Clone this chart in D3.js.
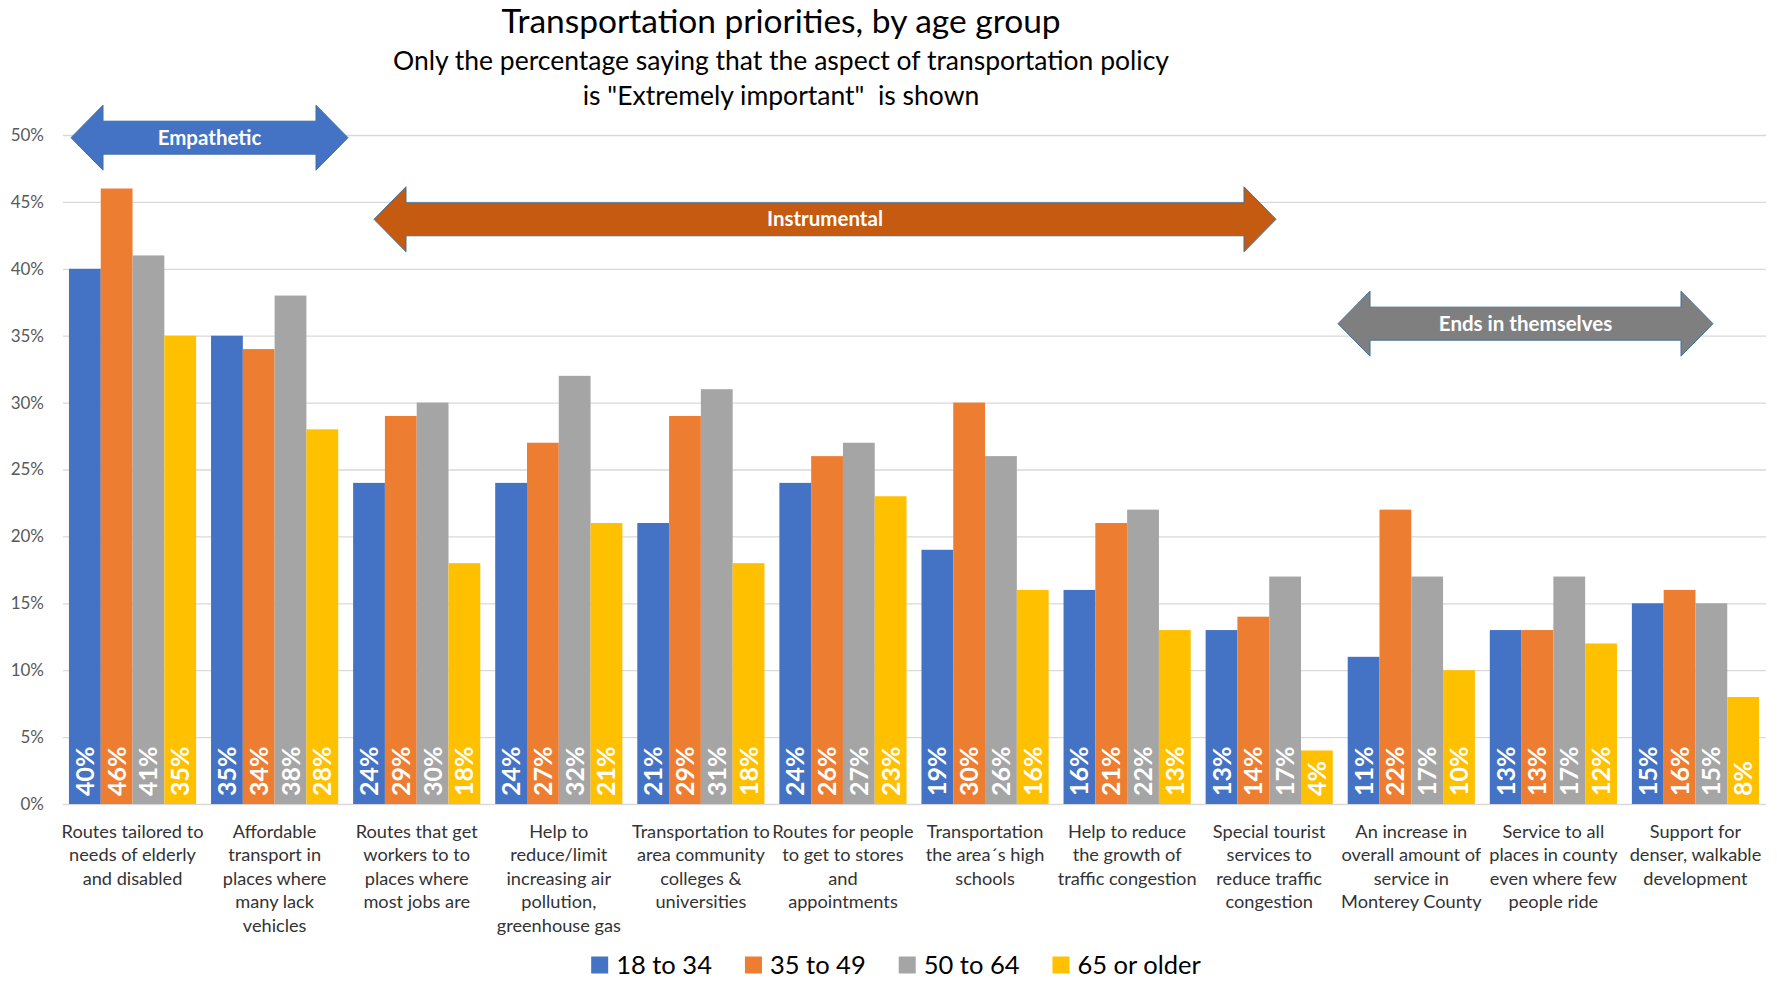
<!DOCTYPE html>
<html>
<head>
<meta charset="utf-8">
<script src="https://cdn.jsdelivr.net/npm/d3@7"></script>
<style>
    body { margin: 0; background: #fff; }
    svg { display: block; font-family: Lato, 'Noto Sans', sans-serif; }
</style>
</head>
<body>
<div id="chart"></div>
<script>
//Chart data
var categories = [
    'Routes tailored to\nneeds of elderly\nand disabled',
    'Affordable\ntransport in\nplaces where\nmany lack\nvehicles',
    'Routes that get\nworkers to to\nplaces where\nmost jobs are',
    'Help to\nreduce/limit\nincreasing air\npollution,\ngreenhouse gas',
    'Transportation to\narea community\ncolleges &\nuniversities',
    'Routes for people\nto get to stores\nand\nappointments',
    'Transportation\nthe area\u00b4s high\nschools',
    'Help to reduce\nthe growth of\ntraffic congestion',
    'Special tourist\nservices to\nreduce traffic\ncongestion',
    'An increase in\noverall amount of\nservice in\nMonterey County',
    'Service to all\nplaces in county\neven where few\npeople ride',
    'Support for\ndenser, walkable\ndevelopment'
];
var seriesNames = ['18 to 34', '35 to 49', '50 to 64', '65 or older'];
var age18to34 = [40, 35, 24, 24, 21, 24, 19, 16, 13, 11, 13, 15];
var age35to49 = [46, 34, 29, 27, 29, 26, 30, 21, 14, 22, 13, 16];
var age50to64 = [41, 38, 30, 32, 31, 27, 26, 22, 17, 17, 17, 15];
var age65plus = [35, 28, 18, 21, 18, 23, 16, 13, 4, 10, 12, 8];
var yTicks = [0, 5, 10, 15, 20, 25, 30, 35, 40, 45, 50];

//Group annotations (label, left tip, right tip, height in %)
var groupLabels = ['Empathetic', 'Instrumental', 'Ends in themselves'];
var groupFrom = [71, 374, 1338];
var groupTo = [348, 1276, 1713];
var groupLevel = [49.8, 43.7, 35.9];

var colors = ['#4472C4', '#ED7D31', '#A5A5A5', '#FFC000'];
var arrowColors = ['#4472C4', '#C55A11', '#7F7F7F'];
var series = [age18to34, age35to49, age50to64, age65plus];

var width = 1777, height = 990;

var svg = d3.select('#chart')
    .append('svg')
    .attr('width', width)
    .attr('height', height);

//Scales
var x = d3.scaleBand()
    .domain(d3.range(categories.length))
    .range([61.5, 1766.5])
    .paddingInner(0.105)
    .paddingOuter(0.0525);

var xInner = d3.scaleBand()
    .domain(d3.range(series.length))
    .range([0, x.bandwidth()]);

var y = d3.scaleLinear()
    .domain([0, 50])
    .range([804, 135]);

//Title
svg.append('text')
    .attr('x', 781)
    .attr('y', 33)
    .attr('text-anchor', 'middle')
    .style('font-size', '33.5px')
    .style('fill', '#000')
    .text('Transportation priorities, by age group');

svg.append('text')
    .attr('x', 781)
    .attr('y', 70)
    .attr('text-anchor', 'middle')
    .style('font-size', '26.5px')
    .style('fill', '#000')
    .text('Only the percentage saying that the aspect of transportation policy');

svg.append('text')
    .attr('x', 781)
    .attr('y', 105)
    .attr('text-anchor', 'middle')
    .style('font-size', '26.5px')
    .style('fill', '#000')
    .style('white-space', 'pre')
    .text('is "Extremely important"  is shown');

//Gridlines and y axis labels
var yAxis = svg.append('g')
    .attr('transform', 'translate(63,0)')
    .call(d3.axisLeft(y)
        .tickValues(yTicks)
        .tickSize(-(1766 - 63))
        .tickPadding(19)
        .tickFormat(function(d){ return d + '%'; }));

yAxis.select('.domain').remove();
yAxis.selectAll('line')
    .style('stroke', '#D9D9D9')
    .style('stroke-width', 1.3);
yAxis.selectAll('text')
    .style('font-family', 'Lato, sans-serif')
    .style('font-size', '17px')
    .style('fill', '#595959');

//Bars
var groups = svg.selectAll('.group')
    .data(categories)
    .enter()
    .append('g')
    .attr('class', 'group')
    .attr('transform', function(d, i){ return 'translate(' + x(i) + ',0)'; });

groups.selectAll('rect')
    .data(function(d, i){ return series.map(function(s){ return s[i]; }); })
    .enter()
    .append('rect')
    .attr('x', function(d, j){ return xInner(j); })
    .attr('width', xInner.bandwidth())
    .attr('y', function(d){ return y(d); })
    .attr('height', function(d){ return y(0) - y(d); })
    .style('fill', function(d, j){ return colors[j]; });

//Value labels, rotated
groups.selectAll('.val')
    .data(function(d, i){ return series.map(function(s){ return s[i]; }); })
    .enter()
    .append('text')
    .attr('class', 'val')
    .attr('transform', function(d, j){
        return 'translate(' + (xInner(j) + xInner.bandwidth() / 2 + 9) + ',' + (y(0) - 8) + ') rotate(-90)';
    })
    .style('font-size', '25px')
    .style('font-weight', 700)
    .style('fill', '#fff')
    .text(function(d){ return d + '%'; });

//Category labels
groups.append('text')
    .attr('class', 'cat')
    .attr('text-anchor', 'middle')
    .style('font-size', '18.2px')
    .style('fill', '#333')
    .selectAll('tspan')
    .data(function(d){ return d.split('\n'); })
    .enter()
    .append('tspan')
    .attr('x', x.bandwidth() / 2)
    .attr('y', function(d, k){ return 837.5 + k * 23.5; })
    .text(function(d){ return d; });

//Double-headed arrows
groupLabels.forEach(function(label, i){
    var x0 = groupFrom[i], x1 = groupTo[i], cy = y(groupLevel[i]);
    var head = 32, hh = 32.5, sh = 16.5;
    var pts = [
        [x0, cy], [x0 + head, cy - hh], [x0 + head, cy - sh], [x1 - head, cy - sh],
        [x1 - head, cy - hh], [x1, cy], [x1 - head, cy + hh], [x1 - head, cy + sh],
        [x0 + head, cy + sh], [x0 + head, cy + hh]
    ];
    svg.append('path')
        .attr('d', d3.line()(pts) + 'Z')
        .style('fill', arrowColors[i])
        .style('stroke', '#41719C')
        .style('stroke-width', 1);
    svg.append('text')
        .attr('x', (x0 + x1) / 2)
        .attr('y', cy + 7)
        .attr('text-anchor', 'middle')
        .style('font-size', '20.5px')
        .style('font-weight', 700)
        .style('fill', '#fff')
        .text(label);
});

//Legend
var legend = svg.append('g');
var lx = 0;
seriesNames.forEach(function(name, i){
    legend.append('rect')
        .attr('x', lx)
        .attr('y', -8.5)
        .attr('width', 17)
        .attr('height', 17)
        .style('fill', colors[i]);
    var t = legend.append('text')
        .attr('x', lx + 25)
        .attr('y', 9)
        .style('font-size', '25.5px')
        .style('fill', '#000')
        .text(name);
    lx += 25 + t.node().getComputedTextLength() + 33;
});
legend.attr('transform', 'translate(' + (896 - (lx - 33) / 2) + ',965)');
</script>
</body>
</html>
